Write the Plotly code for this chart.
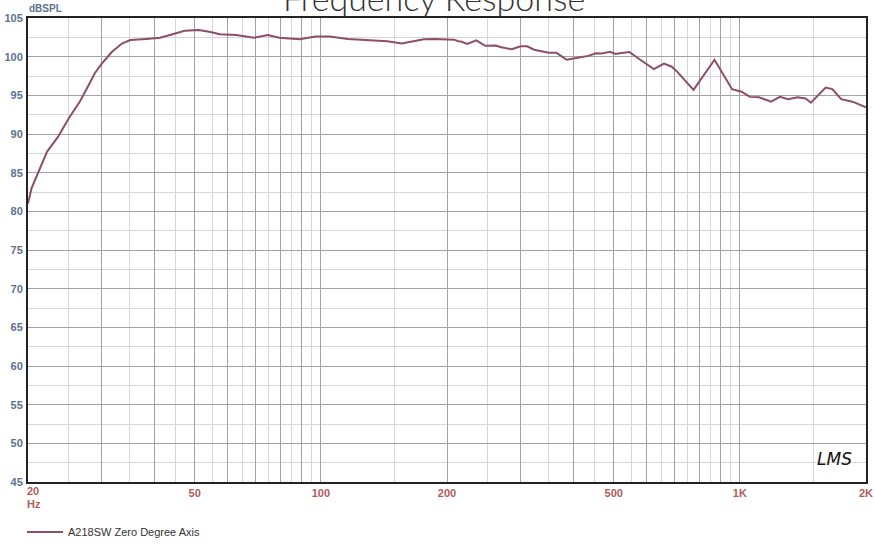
import math
import plotly.graph_objects as go

# ---- data ----
freq_hz = [20, 20.4, 22.2, 23.6, 25.0, 26.6, 27.9, 28.9, 30, 31.7, 33.5, 35.1, 38.3, 41.3, 42.8,
           44.9, 47.3, 51.1, 54.5, 57.4, 62.8, 69.2, 74.7, 79.6, 89.0, 97.1, 105, 116, 128,
           144, 156, 166, 176, 187, 198, 208, 213, 216, 223.5, 235, 246.7, 261.6, 268,
           285.5, 300, 310.6, 322.9, 349.7, 365, 386, 410, 435, 453, 468, 490, 505, 517,
           545, 575, 623, 659, 688, 710, 775, 870, 958, 1009, 1057, 1111, 1187, 1246, 1303,
           1373, 1435, 1478, 1602, 1662, 1745, 1857, 2000]
spl_db = [81.0, 83.0, 87.7, 89.65, 92.0, 94.2, 96.3, 97.9, 99.1, 100.6, 101.7, 102.15, 102.3,
          102.45, 102.67, 103.0, 103.36, 103.45, 103.2, 102.9, 102.8, 102.45, 102.8, 102.45,
          102.25, 102.6, 102.6, 102.3, 102.2, 102.0, 101.7, 101.95, 102.25, 102.3, 102.2,
          102.2, 102.0, 101.95, 101.65, 102.1, 101.4, 101.45, 101.25, 100.95, 101.35, 101.35,
          100.9, 100.5, 100.5, 99.6, 99.85, 100.1, 100.45, 100.4, 100.64, 100.35, 100.43,
          100.6, 99.7, 98.4, 99.1, 98.7, 98.0, 95.7, 99.6, 95.8, 95.47, 94.8, 94.74, 94.18,
          94.8, 94.5, 94.74, 94.6, 94.05, 96.0, 95.8, 94.5, 94.18, 93.45]
series_name = "A218SW Zero Degree Axis"

x_label_vals = [20, 50, 100, 200, 500, 1000, 2000]
x_label_text = ["20", "50", "100", "200", "500", "1K", "2K"]
y_ticks = [45, 50, 55, 60, 65, 70, 75, 80, 85, 90, 95, 100, 105]

# grid positions
major_x = [20, 30, 40, 50, 60, 70, 80, 90, 100, 200, 300, 400, 500, 600, 700, 800, 900, 1000, 2000]
minor_x = [25, 35, 45, 55, 65, 75, 85, 95, 150, 250, 350, 450, 550, 650, 750, 850, 950, 1500]
minor_y = [47.5 + 5 * i for i in range(12)]

ticktext = []
for v in major_x:
    if v in x_label_vals and v != 20:
        ticktext.append(x_label_text[x_label_vals.index(v)])
    else:
        ticktext.append("")

line_color = "#8e4d68"
ycol = "#5b7190"
xcol = "#b35a5a"
lab_font = "Liberation Sans, Arial"

fig = go.Figure()
fig.add_trace(go.Scatter(x=freq_hz, y=spl_db, mode="lines", name=series_name,
                         line=dict(color=line_color, width=2), showlegend=True))

fig.update_layout(
    width=874, height=545,
    margin=dict(l=28, r=8, t=18, b=63, autoexpand=False),
    paper_bgcolor="white", plot_bgcolor="white",
    font=dict(family=lab_font, size=11, color="#333"),
    showlegend=True,
    legend=dict(orientation="h", x=-0.00716, xanchor="left", y=-0.108, yanchor="middle",
                font=dict(size=11, color="#333", family=lab_font),
                bgcolor="rgba(0,0,0,0)", itemwidth=36),
)

fig.update_xaxes(
    type="log", range=[math.log10(20), math.log10(2000)], automargin=False,
    tickvals=major_x, ticktext=ticktext, ticks="",
    tickfont=dict(color=xcol, size=11, family=lab_font, weight="bold"),
    showgrid=True, gridcolor="#a3a3a3", gridwidth=1.3,
    minor=dict(tickvals=minor_x, showgrid=True, gridcolor="#d6d6d6", gridwidth=1.3, ticks=""),
    showline=True, linecolor="#222", linewidth=2, mirror=True, zeroline=False,
    ticklabelstandoff=0,
)
fig.update_yaxes(
    range=[45, 105], tickvals=y_ticks, ticks="", automargin=False,
    tickfont=dict(color=ycol, size=11, family=lab_font, weight="bold"),
    showgrid=True, gridcolor="#a3a3a3", gridwidth=1.3,
    minor=dict(tickvals=minor_y, showgrid=True, gridcolor="#d6d6d6", gridwidth=1.3, ticks=""),
    showline=True, linecolor="#222", linewidth=2, mirror=True, zeroline=False,
    ticklabelstandoff=1,
)

annotations = [
    dict(text="Frequency Response", xref="paper", yref="paper", x=0.484, y=1, xanchor="center",
         yanchor="bottom", yshift=-2, showarrow=False,
         font=dict(family="Lato", size=34, color="#333", weight=300)),
    dict(text="dBSPL", xref="paper", yref="paper", x=0, y=1, xanchor="left", yanchor="bottom",
         yshift=2, xshift=-1, showarrow=False,
         font=dict(family=lab_font, size=10, color=ycol, weight="bold")),
    dict(text="20", xref="x", yref="paper", x=math.log10(20), y=0, xanchor="left", yanchor="top",
         yshift=-1, xshift=-3, showarrow=False,
         font=dict(family=lab_font, size=11, color=xcol, weight="bold")),
    dict(text="Hz", xref="paper", yref="paper", x=0, y=0, xanchor="left", yanchor="top",
         yshift=-14, xshift=-3, showarrow=False,
         font=dict(family=lab_font, size=11, color=xcol, weight="bold")),
    dict(text="<i>LMS</i>", xref="paper", yref="paper", x=0.963, y=0.05, xanchor="center",
         yanchor="middle", showarrow=False,
         font=dict(family="DejaVu Sans", size=17, color="#111")),
]
fig.update_layout(annotations=annotations)

fig.write_html("out.html", config={"displayModeBar": False},
               post_script="document.body.style.margin='0px';")
